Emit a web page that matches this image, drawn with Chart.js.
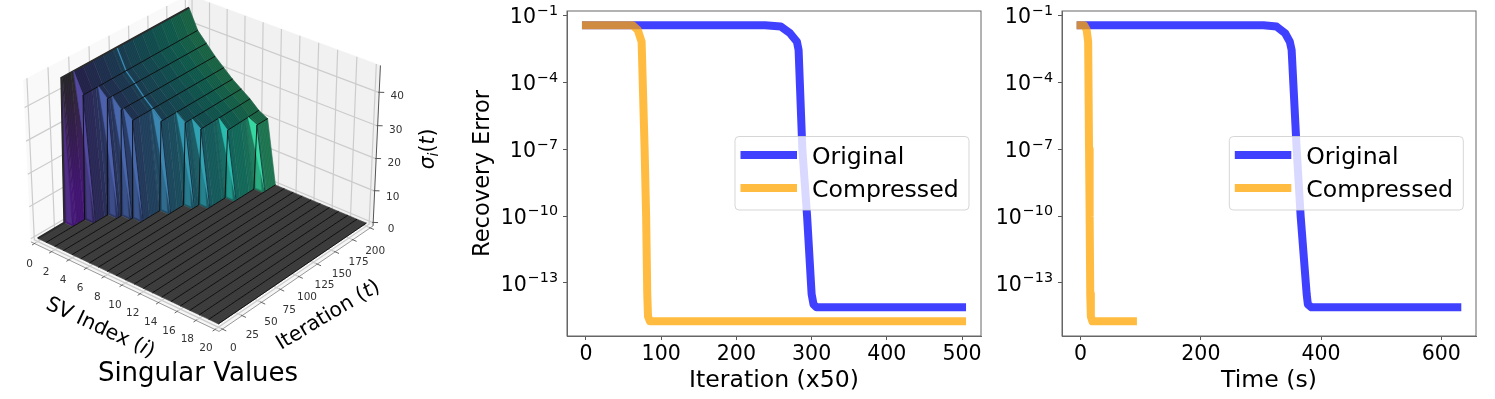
<!DOCTYPE html>
<html lang="en">

<head>
    <meta charset="UTF-8">
    <title>Singular values and recovery error</title>
    <script src="https://cdn.jsdelivr.net/npm/chart.js"></script>
    <style>
        body {
            margin: 0;
            background: #fff;
        }

        canvas {
            position: absolute;
            top: 0;
            filter: blur(0.4px);
        }
    </style>
</head>

<body>
    <canvas id="surfaceChart" width="460" height="399" style="left:0"></canvas>
    <canvas id="iterChart" width="530" height="399" style="left:460px"></canvas>
    <canvas id="timeChart" width="505" height="399" style="left:990px"></canvas>

    <script>
        // Error curves
        const iterOriginal = [0, 100, 200, 238, 259, 271, 280.5, 282.7, 287.7, 294, 300, 302.5, 306.6, 500];
        const timeOriginal = [0, 100, 200, 304, 326, 340, 348, 351, 359.4, 366, 376, 378, 384, 626.6];
        const errorOriginal = [0.037, 0.037, 0.037, 0.037, 0.0324, 0.0166, 0.00676, 0.00288, 1e-7, 1e-10, 3.2e-14, 1.1e-14, 8.1e-15, 8.1e-15];
        const iterCompressed = [0, 62, 68.9, 74, 78, 80, 81.5, 82.5, 85, 500];
        const timeCompressed = [0, 6, 10, 12.5, 14, 15, 16, 17, 19.5, 87];
        const errorCompressed = [0.037, 0.037, 0.0229, 0.00676, 1e-7, 1e-10, 3.2e-14, 3.2e-15, 1.9e-15, 1.9e-15];
        const errorTicks = [1e-1, 1e-4, 1e-7, 1e-10, 1e-13];
        const errorExponents = ["\u22121", "\u22124", "\u22127", "\u221210", "\u221213"];
        const iterTicks = [0, 100, 200, 300, 400, 500];
        const timeTicks = [0, 200, 400, 600];

        // Surface: for each singular value, where it leaves zero, where it tops out,
        // its height there and its height at the last iteration
        const sigmaOnset = [33, 48, 67, 73, 76, 101, 121, 130, 154, 182];
        const sigmaTopAt = [36, 51, 70, 76, 79, 104, 124, 133, 157, 185];
        const sigmaTop = [44, 38, 35.5, 32.5, 30, 27.5, 25.5, 23.5, 21, 20];
        const sigmaLast = [45, 39, 36, 33, 30.5, 28, 26, 24, 21.5, 20];
        const indexTicks = [0, 2, 4, 6, 8, 10, 12, 14, 16, 18, 20];
        const tTicks = [0, 25, 50, 75, 100, 125, 150, 175, 200];
        const sigmaTicks = [0, 10, 20, 30, 40];
        const kinkAt = 105;
        const kinkRows = 5;

        const FONT = '"DejaVu Sans"';
        const BLUE = "rgba(0, 0, 255, 0.75)";
        const ORANGE = "rgba(255, 165, 0, 0.75)";

        // ---------- 3D projection, same idea as mplot3d ----------
        const box = { i0: -0.42, i1: 20.42, t0: -4.2, t1: 204.2, z0: -1, z1: 48 };
        const elev = 30 * Math.PI / 180;
        const azim = -50 * Math.PI / 180;
        const PX = 217, CX = 203, CY = 155;

        function project(i, t, z) {
            const a = ((i - box.i0) / (box.i1 - box.i0) - 0.5) * 1.143;
            const b = ((t - box.t0) / (box.t1 - box.t0) - 0.5) * 1.143;
            const c = ((z - box.z0) / (box.z1 - box.z0) - 0.5) * 0.857;
            const se = Math.sin(elev), ce = Math.cos(elev), sa = Math.sin(azim), ca = Math.cos(azim);
            const sx = -sa * a + ca * b;
            const sy = -se * ca * a - se * sa * b + ce * c;
            const depth = ce * ca * a + ce * sa * b + se * c;
            const k = 10 / (10 - depth);
            return { x: sx * k, y: sy * k };
        }

        const viridisStops = [[68, 1, 84], [72, 40, 120], [62, 74, 137], [49, 104, 142], [38, 130, 142], [31, 158, 137], [53, 183, 121], [109, 205, 89], [180, 222, 44], [253, 231, 37]];

        function shade(t, f) {
            const p = Math.min(0.999, t / 300) * (viridisStops.length - 1);
            const n = Math.floor(p);
            const c = viridisStops[n].map((v, k) => (v + (viridisStops[n + 1][k] - v) * (p - n)) * f);
            return `rgb(${c[0]}, ${c[1]}, ${c[2]})`;
        }

        function rowKnots(i) {
            if (i >= sigmaOnset.length) return [[0, 0], [200, 0]];
            return [[0, 0], [sigmaOnset[i], 0], [sigmaTopAt[i], sigmaTop[i]], [200, sigmaLast[i]]];
        }

        function height(i, t) {
            const k = rowKnots(i);
            for (let n = 1; n < k.length; n++) {
                if (t <= k[n][0]) {
                    return k[n - 1][1] + (k[n][1] - k[n - 1][1]) * (t - k[n - 1][0]) / (k[n][0] - k[n - 1][0]);
                }
            }
            return 0;
        }

        const layers = [];

        function polygon(pts, color) {
            const data = pts.map(p => project(p[0], p[1], p[2]));
            data.push(data[0]);
            layers.push({ data, showLine: true, pointRadius: 0, fill: "shape", backgroundColor: color, borderColor: color, borderWidth: 0.5 });
        }

        function path(pts, color, width) {
            layers.push({ data: pts.map(p => project(p[0], p[1], p[2])), showLine: true, pointRadius: 0, fill: false, borderColor: color, borderWidth: width });
        }

        // panes
        const { i0, i1, t0, t1, z0, z1 } = box;
        polygon([[i0, t0, z0], [i0, t1, z0], [i0, t1, z1], [i0, t0, z1]], "#f9f9f9");
        polygon([[i0, t1, z0], [i1, t1, z0], [i1, t1, z1], [i0, t1, z1]], "#f1f1f1");
        polygon([[i0, t0, z0], [i1, t0, z0], [i1, t1, z0], [i0, t1, z0]], "#f6f6f6");

        // grid on the panes
        const GRID = "#cccccc";
        sigmaTicks.forEach(z => path([[i0, t0, z], [i0, t1, z], [i1, t1, z]], GRID, 1.2));
        indexTicks.forEach(i => path([[i, t0, z0], [i, t1, z0], [i, t1, z1]], GRID, 1.2));
        tTicks.forEach(t => path([[i1, t, z0], [i0, t, z0], [i0, t, z1]], GRID, 1.2));

        // axis lines and tick marks
        path([[i0, t0, z0], [i1, t0, z0]], "#999", 1);
        path([[i1, t0, z0], [i1, t1, z0]], "#999", 1);
        path([[i1, t1, z0], [i1, t1, z1]], "#555", 1);
        indexTicks.forEach(i => path([[i, t0 + 1, z0], [i, t0 - 3, z0]], "#666", 1));
        tTicks.forEach(t => path([[i1 - 0.1, t, z0], [i1 + 0.4, t, z0]], "#666", 1));
        sigmaTicks.forEach(z => path([[i1 - 0.1, t1, z], [i1 + 0.3, t1 + 3, z]], "#555", 1));

        // first cliff fades from near black at the top to purple at the foot
        const firstCliff = document.getElementById("surfaceChart").getContext("2d").createLinearGradient(0, 72, 0, 190);
        firstCliff.addColorStop(0, "#2a2a2a");
        firstCliff.addColorStop(1, "#48187c");

        const lastRow = indexTicks[indexTicks.length - 1];

        // surface, back to front: low index first, high iteration first
        for (let i = 0; i < lastRow; i++) {
            const cuts = new Set([0, 200]);
            const firstUp = Math.min(rowKnots(i)[1][0], rowKnots(i + 1)[1][0]);
            if (firstUp < 200) {
                for (let t = 200; t > firstUp; t -= 12.5) cuts.add(t);
            }
            rowKnots(i).concat(rowKnots(i + 1)).forEach(k => cuts.add(k[0]));
            const sorted = [...cuts].sort((a, b) => b - a);
            for (let n = 0; n < sorted.length - 1; n++) {
                const b = sorted[n], a = sorted[n + 1];
                const za = height(i, a), zb = height(i, b), wa = height(i + 1, a), wb = height(i + 1, b);
                let color = "#424242";
                if (za + zb + wa + wb > 0) {
                    const mid = (a + b) / 2;
                    if (wa > 0 && wb > 0) color = shade(mid, 0.6);
                    else if (i === 0) color = firstCliff;
                    else color = shade(mid, 0.72);
                }
                polygon([[i, a, za], [i, b, zb], [i + 1, b, wb], [i + 1, a, wa]], color);
            }
            // fine mesh lines across the strip
            const mesh = [];
            for (let t = 0; t <= 200; t += 2) {
                const near = [i, t, height(i, t)], far = [i + 1, t, height(i + 1, t)];
                if ((t / 2) % 2 === 0) mesh.push(near, far); else mesh.push(far, near);
            }
            path(mesh, "rgba(0, 0, 0, 0.22)", 0.6);
            // bright slivers at the foot and in front of each tooth
            if (i < sigmaTopAt.length) {
                const T = sigmaTopAt[i];
                polygon([[i, T, height(i, T)], [i, T, 0], [i + 0.6, T, 0]], shade(T, i === 0 ? 1.1 : 1.0));
            }
            if (i > 0 && i < sigmaTopAt.length) {
                const T = sigmaTopAt[i];
                polygon([[i - 1, T, height(i - 1, T)], [i, T, height(i, T)], [i + 1, T, 0]], shade(T, 1.25));
                path([[i, T, height(i, T)], [i + 1, T, 0]], "#101020", 0.7);
            }
            // light crease running across the plateau
            if (i < kinkRows) {
                path([[i, kinkAt, height(i, kinkAt)], [i + 1, kinkAt, height(i + 1, kinkAt)]], shade(kinkAt, 1.25), 1.4);
            }
            path(rowKnots(i).map(k => [i, k[0], k[1]]), i === 0 ? "#2a2a2a" : "#0a0a0a", i === 0 ? 2 : 0.9);
        }
        path([[lastRow, 0, 0], [lastRow, 200, 0]], "#0a0a0a", 0.9);

        // runs of text in different fonts, centred on x, y and rotated by deg
        function drawRuns(ctx, runs, x, y, deg) {
            ctx.save();
            ctx.translate(x, y);
            ctx.rotate(deg * Math.PI / 180);
            ctx.textBaseline = "alphabetic";
            ctx.textAlign = "left";
            let w = 0;
            runs.forEach(r => { ctx.font = r.font; w += ctx.measureText(r.text).width; });
            let px = -w / 2;
            runs.forEach(r => {
                ctx.font = r.font;
                ctx.fillText(r.text, px, r.dy || 0);
                px += ctx.measureText(r.text).width;
            });
            ctx.restore();
        }

        const surfaceLabels = {
            id: "surfaceLabels",
            afterDatasetsDraw(chart) {
                const ctx = chart.ctx;
                const sx = chart.scales.x, sy = chart.scales.y;
                const at = (i, t, z) => {
                    const p = project(i, t, z);
                    return [sx.getPixelForValue(p.x), sy.getPixelForValue(p.y)];
                };
                ctx.save();
                ctx.fillStyle = "#333";
                ctx.font = `10.5px ${FONT}`;
                ctx.textAlign = "center";
                ctx.textBaseline = "middle";
                indexTicks.forEach(i => {
                    const [x, y] = at(i, t0, z0);
                    ctx.fillText(String(i), x - 5 - 0.2 * i, y + 21 - 0.1 * i);
                });
                tTicks.forEach(t => {
                    const [x, y] = at(i1, t, z0);
                    ctx.fillText(String(t), x + 11 - 0.03 * t, y + 19 + 0.02 * t);
                });
                sigmaTicks.forEach(z => {
                    const [x, y] = at(i1, t1, z);
                    ctx.fillText(String(z), x + 18, y + 6.5 - 0.08 * z);
                });
                ctx.fillStyle = "#000";
                const big = `20.4px ${FONT}`, slant = `oblique 20.4px ${FONT}`;
                drawRuns(ctx, [{ text: "SV Index (", font: big }, { text: "i", font: slant }, { text: ")", font: big }], 98, 333, 25);
                drawRuns(ctx, [{ text: "Iteration (", font: big }, { text: "t", font: slant }, { text: ")", font: big }], 331, 320, -31);
                drawRuns(ctx, [{ text: "\u03c3", font: slant }, { text: "i", font: `oblique 14px ${FONT}`, dy: 4 }, { text: "(", font: big }, { text: "t", font: slant }, { text: ")", font: big }], 434, 149, -90);
                ctx.textAlign = "center";
                ctx.textBaseline = "alphabetic";
                ctx.font = `26px ${FONT}`;
                ctx.fillText("Singular Values", 198, 381);
                ctx.restore();
            }
        };

        new Chart(document.getElementById("surfaceChart"), {
            type: "scatter",
            data: { datasets: layers.reverse() },
            options: {
                responsive: false,
                animation: false,
                events: [],
                layout: { padding: 0 },
                plugins: { legend: { display: false }, tooltip: { enabled: false } },
                scales: {
                    x: { type: "linear", display: false, min: -CX / PX, max: (460 - CX) / PX },
                    y: { type: "linear", display: false, min: (CY - 399) / PX, max: CY / PX }
                }
            },
            plugins: [surfaceLabels]
        });

        // ---------- error panels ----------
        const panelDecor = {
            id: "panelDecor",
            afterDatasetsDraw(chart, args, opts) {
                const ctx = chart.ctx;
                const area = chart.chartArea;
                const sy = chart.scales.y;
                ctx.save();
                // legend
                const lx = opts.legendX, lw = opts.legendW;
                ctx.beginPath();
                ctx.roundRect(lx, 136.5, lw, 73.5, 4);
                ctx.fillStyle = "rgba(255, 255, 255, 0.8)";
                ctx.fill();
                ctx.strokeStyle = "rgba(204, 204, 204, 0.8)";
                ctx.lineWidth = 1;
                ctx.stroke();
                chart.data.datasets.forEach((d, n) => {
                    const y = 155 + n * 33;
                    ctx.strokeStyle = d.borderColor;
                    ctx.lineWidth = 8;
                    ctx.beginPath();
                    ctx.moveTo(lx + 5.5, y);
                    ctx.lineTo(lx + 62, y);
                    ctx.stroke();
                    ctx.fillStyle = "#000";
                    ctx.font = `23.6px ${FONT}`;
                    ctx.textAlign = "left";
                    ctx.textBaseline = "alphabetic";
                    ctx.fillText(d.label, lx + 77, y + 8.5);
                });
                // frame
                ctx.strokeStyle = "#666";
                ctx.lineWidth = 1;
                ctx.strokeRect(area.left, area.top, area.right - area.left, area.bottom - area.top);
                // log tick labels with raised exponents
                ctx.fillStyle = "#000";
                ctx.textAlign = "right";
                ctx.textBaseline = "alphabetic";
                errorTicks.forEach((v, n) => {
                    const y = sy.getPixelForValue(v);
                    const right = area.left - 9;
                    ctx.font = `14.3px ${FONT}`;
                    ctx.fillText(errorExponents[n], right, y - 0.7);
                    const w = ctx.measureText(errorExponents[n]).width;
                    ctx.font = `20.5px ${FONT}`;
                    ctx.fillText("10", right - w - 1, y + 7.6);
                });
                ctx.restore();
            }
        };

        function errorPanel(id, xOrig, xComp, xTicks, xMin, xMax, xName, yName, plot, legendX) {
            const canvas = document.getElementById(id);
            new Chart(canvas, {
                type: "scatter",
                data: {
                    datasets: [{
                        label: "Original",
                        order: 2,
                        data: xOrig.map((x, n) => ({ x, y: errorOriginal[n] })),
                        showLine: true,
                        pointRadius: 0,
                        borderColor: BLUE,
                        borderWidth: 8,
                        borderCapStyle: "square",
                        borderJoinStyle: "round"
                    }, {
                        label: "Compressed",
                        order: 1,
                        data: xComp.map((x, n) => ({ x, y: errorCompressed[n] })),
                        showLine: true,
                        pointRadius: 0,
                        borderColor: ORANGE,
                        borderWidth: 8,
                        borderCapStyle: "square",
                        borderJoinStyle: "round"
                    }],
                },
                options: {
                    responsive: false,
                    animation: false,
                    events: [],
                    layout: { padding: { left: 0, right: canvas.width - plot.right, top: plot.top, bottom: 0 } },
                    plugins: {
                        legend: { display: false },
                        tooltip: { enabled: false },
                        panelDecor: { legendX, legendW: 234 }
                    },
                    scales: {
                        x: {
                            type: "linear",
                            min: xMin,
                            max: xMax,
                            afterBuildTicks: s => { s.ticks = xTicks.map(value => ({ value })); },
                            afterFit: s => { s.height = 399 - plot.bottom; },
                            grid: { drawOnChartArea: false, tickLength: 4, tickColor: "#555", tickWidth: 1 },
                            border: { color: "#666" },
                            ticks: { color: "#000", font: { family: FONT, size: 20.5 }, padding: 2, maxRotation: 0, autoSkip: false },
                            title: { display: true, text: xName, color: "#000", font: { family: FONT, size: 23.6 }, padding: { top: 0, bottom: 4 } }
                        },
                        y: {
                            type: "logarithmic",
                            bounds: "data",
                            min: Math.pow(10, -15.38),
                            max: Math.pow(10, -0.79),
                            afterBuildTicks: s => { s.ticks = errorTicks.map(value => ({ value })); },
                            afterFit: s => { s.width = plot.left; },
                            grid: { drawOnChartArea: false, tickLength: 4, tickColor: "#555", tickWidth: 1 },
                            border: { color: "#666" },
                            ticks: { display: false },
                            title: { display: yName !== "", text: yName, color: "#000", font: { family: FONT, size: 22.6 }, padding: { top: 10, bottom: 0 } }
                        }
                    }
                },
                plugins: [panelDecor]
            });
        }

        errorPanel("iterChart", iterOriginal, iterCompressed, iterTicks, -25.2, 525.2, "Iteration (x50)", "Recovery Error",
            { left: 107, right: 521, top: 11, bottom: 336 }, 275);
        errorPanel("timeChart", timeOriginal, timeCompressed, timeTicks, -31, 657.7, "Time (s)", "",
            { left: 72, right: 486, top: 11, bottom: 336 }, 239.3);
    </script>
</body>

</html>
